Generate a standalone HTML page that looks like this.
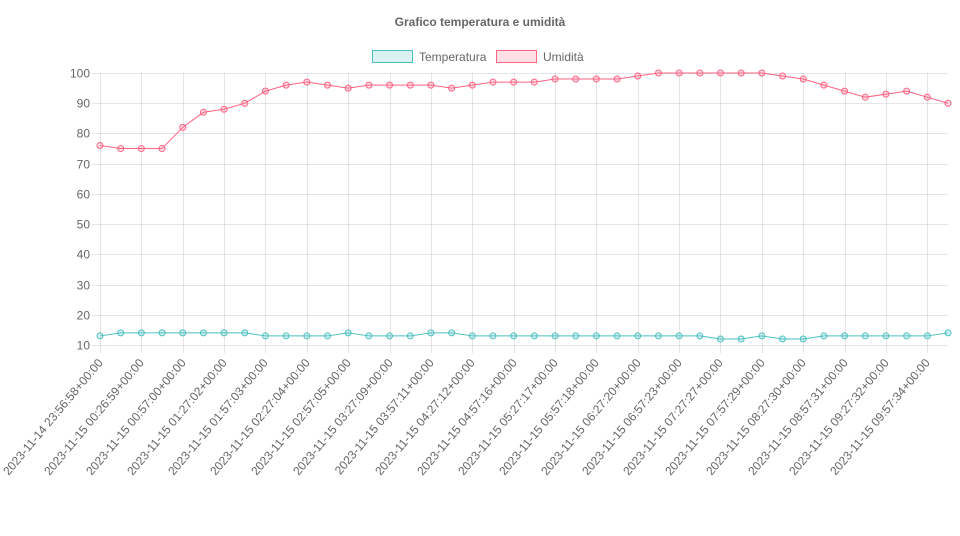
<!DOCTYPE html>
<html><head><meta charset="utf-8"><style>
html,body{margin:0;padding:0;background:#fff;}
svg{display:block;font-family:"Liberation Sans",Arial,sans-serif;}
</style></head><body>
<svg id="chart" width="960" height="536" viewBox="0 0 960 536">
<text x="480" y="26" text-anchor="middle" font-size="12" font-weight="bold" fill="#666">Grafico temperatura e umidità</text>
<g>
<g>
<rect x="372.5" y="50.5" width="40" height="12" fill="rgba(75,192,192,0.2)" stroke="rgb(75,192,192)" stroke-width="1"/>
<text x="419" y="61" font-size="12" fill="#666">Temperatura</text></g>
<g>
<rect x="496.5" y="50.5" width="40" height="12" fill="rgba(255,99,132,0.2)" stroke="rgb(255,99,132)" stroke-width="1"/>
<text x="543" y="61" font-size="12" fill="#666">Umidità</text></g>
</g>
<g id="grid"></g><g id="axes"></g><g id="series"></g>
</svg>
<script>
const labels=["2023-11-14 23:56:58+00:00","2023-11-15 00:11:58+00:00","2023-11-15 00:26:59+00:00","2023-11-15 00:41:59+00:00","2023-11-15 00:57:00+00:00","2023-11-15 01:12:01+00:00","2023-11-15 01:27:02+00:00","2023-11-15 01:42:02+00:00","2023-11-15 01:57:03+00:00","2023-11-15 02:12:03+00:00","2023-11-15 02:27:04+00:00","2023-11-15 02:42:04+00:00","2023-11-15 02:57:05+00:00","2023-11-15 03:12:07+00:00","2023-11-15 03:27:09+00:00","2023-11-15 03:42:10+00:00","2023-11-15 03:57:11+00:00","2023-11-15 04:12:11+00:00","2023-11-15 04:27:12+00:00","2023-11-15 04:42:14+00:00","2023-11-15 04:57:16+00:00","2023-11-15 05:12:16+00:00","2023-11-15 05:27:17+00:00","2023-11-15 05:42:17+00:00","2023-11-15 05:57:18+00:00","2023-11-15 06:12:19+00:00","2023-11-15 06:27:20+00:00","2023-11-15 06:42:21+00:00","2023-11-15 06:57:23+00:00","2023-11-15 07:12:25+00:00","2023-11-15 07:27:27+00:00","2023-11-15 07:42:28+00:00","2023-11-15 07:57:29+00:00","2023-11-15 08:12:29+00:00","2023-11-15 08:27:30+00:00","2023-11-15 08:42:30+00:00","2023-11-15 08:57:31+00:00","2023-11-15 09:12:31+00:00","2023-11-15 09:27:32+00:00","2023-11-15 09:42:33+00:00","2023-11-15 09:57:34+00:00","2023-11-15 10:12:34+00:00"];
const temperatura=[13,14,14,14,14,14,14,14,13,13,13,13,14,13,13,13,14,14,13,13,13,13,13,13,13,13,13,13,13,13,12,12,13,12,12,13,13,13,13,13,13,14];
const umidita=[76,75,75,75,82,87,88,90,94,96,97,96,95,96,96,96,96,95,96,97,97,97,98,98,98,98,99,100,100,100,100,100,100,99,98,96,94,92,93,94,92,90];
const yTicks=[10,20,30,40,50,60,70,80,90,100];
const NS="http://www.w3.org/2000/svg";
const L=100,R=948,T=73,B=345,yMin=10,yMax=100;
const xs=i=>L+(R-L)*i/(labels.length-1);
const ys=v=>B-(v-yMin)/(yMax-yMin)*(B-T);
function mk(t,a,p){const e=document.createElementNS(NS,t);for(const k in a)e.setAttribute(k,a[k]);p.appendChild(e);return e;}
const grid=document.getElementById('grid'),axes=document.getElementById('axes'),ser=document.getElementById('series');
yTicks.forEach(v=>{const y=Math.round(ys(v))+0.5;
const g=mk('line',{x1:L-8,x2:R,y1:y,y2:y,stroke:'rgba(0,0,0,0.1)'},grid);


const t=mk('text',{x:L-10,y:y+4,'text-anchor':'end','font-size':12,fill:'#666'},axes);t.textContent=v;

});
labels.forEach((lb,i)=>{if(i%2)return;const x=Math.round(xs(i))+0.5;
const g=mk('line',{x1:x,x2:x,y1:T,y2:B+8,stroke:'rgba(0,0,0,0.1)'},grid);


const t=mk('text',{x:x+3,y:B+18,'text-anchor':'end','font-size':12,fill:'#666',transform:`rotate(-50 ${x+3} ${B+18})`},axes);t.textContent=lb;

});
function series(data,col,fill,name){
const p=mk('polyline',{points:data.map((v,i)=>xs(i)+','+ys(v)).join(' '),fill:'none',stroke:col,'stroke-width':1},ser);


data.forEach((v,i)=>{const c=mk('circle',{cx:xs(i),cy:ys(v),r:3,fill:fill,stroke:col,'stroke-width':1},ser);

});}
series(temperatura,'rgb(75,192,192)','rgba(75,192,192,0.2)','temperatura');
series(umidita,'rgb(255,99,132)','rgba(255,99,132,0.2)','umidita');
</script>
</body></html>
